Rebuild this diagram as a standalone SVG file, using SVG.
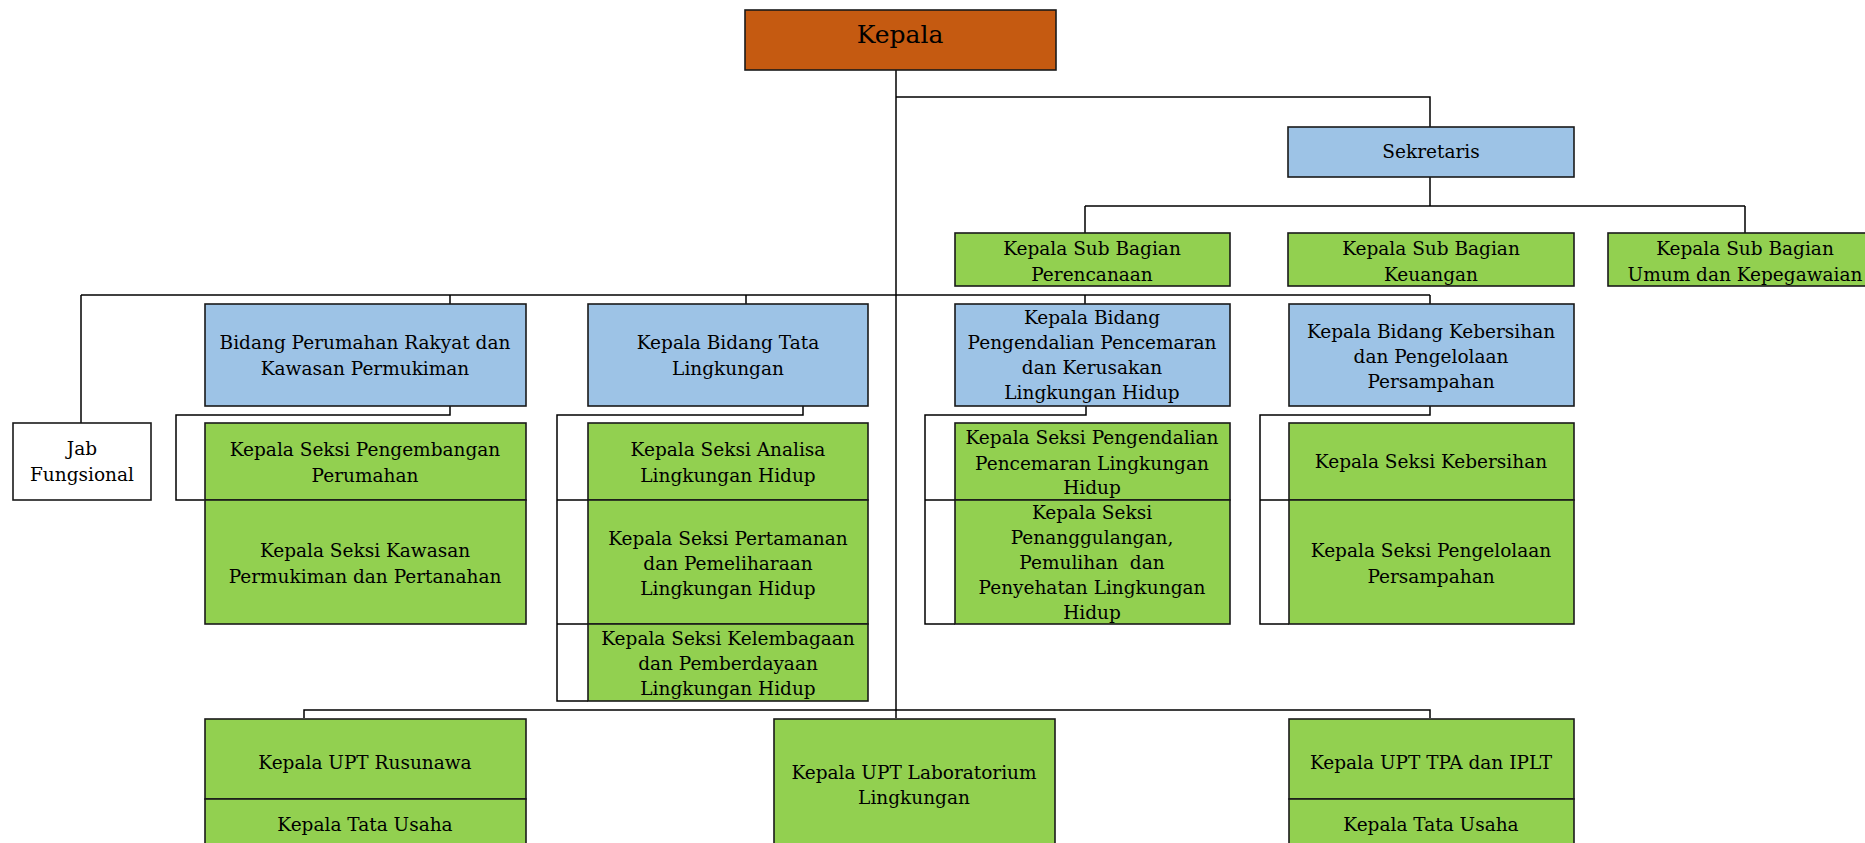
<svg xmlns="http://www.w3.org/2000/svg" width="1865" height="843" viewBox="0 0 1865 843">
<style>
.box{stroke:#1a1a1a;stroke-width:1.6}
.or{fill:#C55A11}
.bl{fill:#9DC3E6}
.gr{fill:#92D050}
.wh{fill:#ffffff}
.conn{fill:none;stroke:#000;stroke-width:1.5}
text{font-family:"DejaVu Serif","Liberation Serif",serif;font-size:18.5px;fill:#000;text-anchor:middle;dominant-baseline:central}
.title{font-size:25px}
</style>
<rect width="1865" height="843" fill="#ffffff"/>
<g id="connectors" class="conn">
<path d="M896 70 V718"/>
<path d="M896 97 H1430 V127"/>
<path d="M1430 177 V206"/>
<path d="M1085 206 H1745"/>
<path d="M1085 206 V233 M1745 206 V233"/>
<path d="M81 295 H1430"/>
<path d="M81 295 V423"/>
<path d="M450 295 V304 M746 295 V304 M1085 295 V304 M1430 295 V304"/>
<path d="M450 406 V415 H176 V500 H204"/>
<path d="M803 406 V415 H557 V701 H588 M557 500 H588 M557 624 H588"/>
<path d="M1086 406 V415 H925 V624 H955 M925 500 H955"/>
<path d="M1430 406 V415 H1260 V624 H1289 M1260 500 H1289"/>
<path d="M304 718 V710 H1430 V718"/>
</g>
<g id="kepala"><rect class="box or" x="745" y="10" width="311" height="60"/><text class="title" x="900" y="34">Kepala</text></g>
<g id="sekretaris"><rect class="box bl" x="1288" y="127" width="286" height="50"/><text x="1431" y="151">Sekretaris</text></g>
<g id="sub-perencanaan"><rect class="box gr" x="955" y="233" width="275" height="53"/><text x="1092" y="248">Kepala Sub Bagian</text><text x="1092" y="274">Perencanaan</text></g>
<g id="sub-keuangan"><rect class="box gr" x="1288" y="233" width="286" height="53"/><text x="1431" y="248">Kepala Sub Bagian</text><text x="1431" y="274">Keuangan</text></g>
<g id="sub-umum"><rect class="box gr" x="1608" y="233" width="274" height="53"/><text x="1745" y="248">Kepala Sub Bagian</text><text x="1745" y="274">Umum dan Kepegawaian</text></g>
<g id="jab-fungsional"><rect class="box wh" x="13" y="423" width="138" height="77"/><text x="82" y="448">Jab</text><text x="82" y="474">Fungsional</text></g>
<g id="bidang-perumahan"><rect class="box bl" x="205" y="304" width="321" height="102"/><text x="365" y="342">Bidang Perumahan Rakyat dan</text><text x="365" y="368">Kawasan Permukiman</text></g>
<g id="bidang-tata"><rect class="box bl" x="588" y="304" width="280" height="102"/><text x="728" y="342">Kepala Bidang Tata</text><text x="728" y="368">Lingkungan</text></g>
<g id="bidang-pengendalian"><rect class="box bl" x="955" y="304" width="275" height="102"/><text x="1092" y="317">Kepala Bidang</text><text x="1092" y="342">Pengendalian Pencemaran</text><text x="1092" y="367">dan Kerusakan</text><text x="1092" y="392">Lingkungan Hidup</text></g>
<g id="bidang-kebersihan"><rect class="box bl" x="1289" y="304" width="285" height="102"/><text x="1431" y="331">Kepala Bidang Kebersihan</text><text x="1431" y="356">dan Pengelolaan</text><text x="1431" y="381">Persampahan</text></g>
<g id="seksi-pengembangan"><rect class="box gr" x="205" y="423" width="321" height="77"/><text x="365" y="449">Kepala Seksi Pengembangan</text><text x="365" y="475">Perumahan</text></g>
<g id="seksi-kawasan"><rect class="box gr" x="205" y="500" width="321" height="124"/><text x="365" y="550">Kepala Seksi Kawasan</text><text x="365" y="576">Permukiman dan Pertanahan</text></g>
<g id="seksi-analisa"><rect class="box gr" x="588" y="423" width="280" height="77"/><text x="728" y="449">Kepala Seksi Analisa</text><text x="728" y="475">Lingkungan Hidup</text></g>
<g id="seksi-pertamanan"><rect class="box gr" x="588" y="500" width="280" height="124"/><text x="728" y="538">Kepala Seksi Pertamanan</text><text x="728" y="563">dan Pemeliharaan</text><text x="728" y="588">Lingkungan Hidup</text></g>
<g id="seksi-kelembagaan"><rect class="box gr" x="588" y="624" width="280" height="77"/><text x="728" y="638">Kepala Seksi Kelembagaan</text><text x="728" y="663">dan Pemberdayaan</text><text x="728" y="688">Lingkungan Hidup</text></g>
<g id="seksi-pengendalian"><rect class="box gr" x="955" y="423" width="275" height="77"/><text x="1092" y="437">Kepala Seksi Pengendalian</text><text x="1092" y="463">Pencemaran Lingkungan</text><text x="1092" y="487">Hidup</text></g>
<g id="seksi-penanggulangan"><rect class="box gr" x="955" y="500" width="275" height="124"/><text x="1092" y="512">Kepala Seksi</text><text x="1092" y="537">Penanggulangan,</text><text x="1092" y="562" xml:space="preserve">Pemulihan  dan</text><text x="1092" y="587">Penyehatan Lingkungan</text><text x="1092" y="612">Hidup</text></g>
<g id="seksi-kebersihan"><rect class="box gr" x="1289" y="423" width="285" height="77"/><text x="1431" y="461">Kepala Seksi Kebersihan</text></g>
<g id="seksi-persampahan"><rect class="box gr" x="1289" y="500" width="285" height="124"/><text x="1431" y="550">Kepala Seksi Pengelolaan</text><text x="1431" y="576">Persampahan</text></g>
<g id="upt-rusunawa"><rect class="box gr" x="205" y="719" width="321" height="80"/><text x="365" y="762">Kepala UPT Rusunawa</text></g>
<g id="tu-rusunawa"><rect class="box gr" x="205" y="799" width="321" height="60"/><text x="365" y="824">Kepala Tata Usaha</text></g>
<g id="upt-laboratorium"><rect class="box gr" x="774" y="719" width="281" height="140"/><text x="914" y="772">Kepala UPT Laboratorium</text><text x="914" y="797">Lingkungan</text></g>
<g id="upt-tpa"><rect class="box gr" x="1289" y="719" width="285" height="80"/><text x="1431" y="762">Kepala UPT TPA dan IPLT</text></g>
<g id="tu-tpa"><rect class="box gr" x="1289" y="799" width="285" height="60"/><text x="1431" y="824">Kepala Tata Usaha</text></g>
</svg>
